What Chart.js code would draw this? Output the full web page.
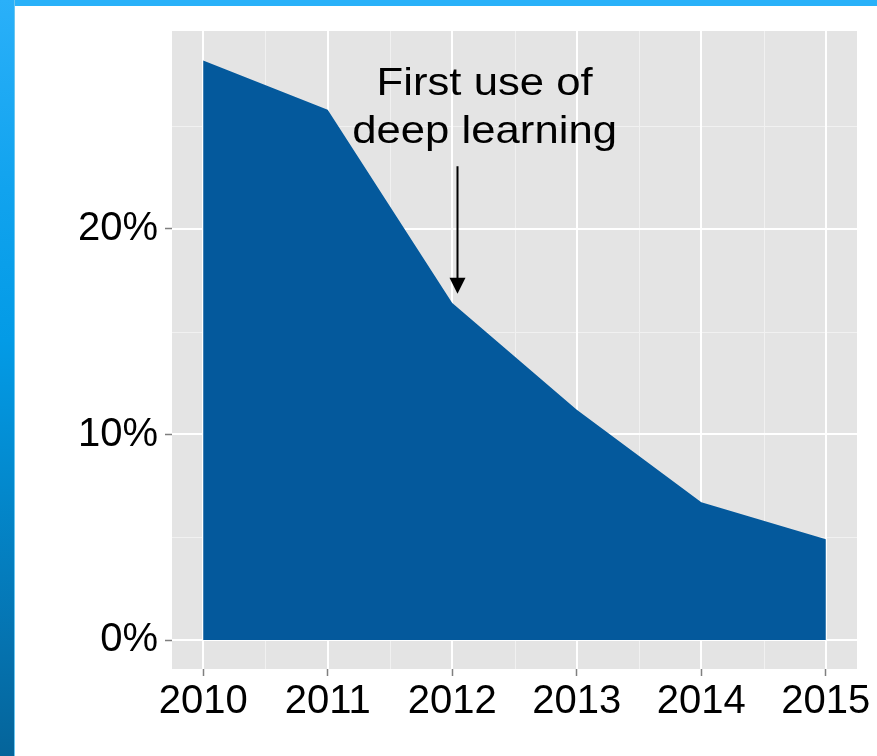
<!DOCTYPE html>
<html>
<head>
<meta charset="utf-8">
<script src="https://cdn.jsdelivr.net/npm/chart.js@4.4.0/dist/chart.umd.min.js"></script>
<style>
  html, body { margin: 0; padding: 0; background: #fff; }
  #wrap { position: relative; width: 877px; height: 756px; overflow: hidden; }
  #topbar { position: absolute; left: 0; top: 0; width: 877px; height: 6px; background: #29b1f9; }
  #leftbar { position: absolute; left: 0; top: 0; width: 14px; height: 756px;
    background: linear-gradient(to bottom, #2ab0f9 0%, #11a3ee 25%, #039be6 45%, #0388cc 65%, #0573b0 85%, #05649a 100%);
    border-right: 1px solid #6cc6f0; }
  #myChart { position: absolute; left: 0; top: 0; }
</style>
</head>
<body>
<div id="wrap">
  <div id="topbar"></div>
  <div id="leftbar"></div>
  <canvas id="myChart" width="877" height="756"></canvas>
</div>
<script>
// data
var years = [2010, 2011, 2012, 2013, 2014, 2015]
var errorRate = [28.2, 25.8, 16.4, 11.2, 6.7, 4.9]
var yTicks = [0, 10, 20]
var yMinor = [5, 15, 25]
var xMinor = [2010.5, 2011.5, 2012.5, 2013.5, 2014.5]
var noteLines = ["First use of", "deep learning"]
var noteYear = 2012

var fontFam = '"Liberation Sans", Arial, Helvetica, sans-serif'

var panel = {
  id: 'panel',
  beforeDatasetsDraw: function(chart) {
    var ctx = chart.ctx, a = chart.chartArea
    var xs = chart.scales.x, ys = chart.scales.y
    ctx.save()
    ctx.fillStyle = '#e4e4e4'
    ctx.fillRect(a.left, a.top, a.right - a.left, a.bottom - a.top)
    // minor grid
    ctx.strokeStyle = '#f1f1f1'
    ctx.lineWidth = 1
    xMinor.forEach(function(v){
      var px = Math.round(xs.getPixelForValue(v)) + 0.5
      ctx.beginPath(); ctx.moveTo(px, a.top); ctx.lineTo(px, a.bottom); ctx.stroke()
    })
    yMinor.forEach(function(v){
      var py = Math.round(ys.getPixelForValue(v)) + 0.5
      ctx.beginPath(); ctx.moveTo(a.left, py); ctx.lineTo(a.right, py); ctx.stroke()
    })
    // major grid
    ctx.strokeStyle = '#ffffff'
    ctx.lineWidth = 2
    years.forEach(function(v){
      var px = Math.round(xs.getPixelForValue(v))
      ctx.beginPath(); ctx.moveTo(px, a.top); ctx.lineTo(px, a.bottom); ctx.stroke()
    })
    yTicks.forEach(function(v){
      var py = Math.round(ys.getPixelForValue(v))
      ctx.beginPath(); ctx.moveTo(a.left, py); ctx.lineTo(a.right, py); ctx.stroke()
    })
    ctx.restore()
  },
  afterDatasetsDraw: function(chart) {
    var ctx = chart.ctx
    var xs = chart.scales.x, ys = chart.scales.y
    ctx.save()
    // annotation text (the original font runs a bit wider than Liberation Sans)
    ctx.fillStyle = '#000'
    ctx.font = '39px ' + fontFam
    ctx.textAlign = 'center'
    ctx.textBaseline = 'alphabetic'
    var tx = xs.getPixelForValue(noteYear + 0.26)
    var stretch = 1.12
    ctx.save()
    ctx.translate(tx, 0)
    ctx.scale(stretch, 1)
    ctx.fillText(noteLines[0], 0, ys.getPixelForValue(26.52))
    ctx.fillText(noteLines[1], 0, ys.getPixelForValue(24.18))
    ctx.restore()
    // arrow
    var ax = Math.round(xs.getPixelForValue(noteYear + 0.04)) + 0.5
    var y0 = ys.getPixelForValue(23.05)
    var y1 = ys.getPixelForValue(16.85)
    ctx.strokeStyle = '#000'
    ctx.lineWidth = 2
    ctx.beginPath(); ctx.moveTo(ax, y0); ctx.lineTo(ax, y1 - 8); ctx.stroke()
    ctx.beginPath()
    ctx.moveTo(ax, y1)
    ctx.lineTo(ax - 8, y1 - 16)
    ctx.lineTo(ax + 8, y1 - 16)
    ctx.closePath()
    ctx.fill()
    ctx.restore()
  }
}

var myChart = new Chart(document.getElementById('myChart').getContext('2d'), {
  type: 'line',
  data: {
    datasets: [{
      data: years.map(function(y, i){ return {x: y, y: errorRate[i]} }),
      fill: 'origin',
      backgroundColor: '#04599c',
      borderWidth: 0,
      pointRadius: 0,
      tension: 0
    }]
  },
  options: {
    responsive: false,
    animation: false,
    events: [],
    layout: { padding: { top: 31, right: 20, left: 0, bottom: 0 } },
    plugins: { legend: { display: false }, tooltip: { enabled: false } },
    scales: {
      x: {
        type: 'linear',
        min: 2009.75,
        max: 2015.25,
        afterBuildTicks: function(s){ s.ticks = years.map(function(v){ return {value: v} }) },
        afterFit: function(s){ s.height = 87 },
        border: { display: false },
        grid: { drawOnChartArea: false, drawTicks: true, tickLength: 7, tickColor: '#7f7f7f', tickWidth: 1.5 },
        ticks: { color: '#000', font: { family: fontFam, size: 40 }, padding: 2, maxRotation: 0,
          callback: function(v){ return String(v) } }
      },
      y: {
        type: 'linear',
        min: -1.41,
        max: 29.63,
        afterBuildTicks: function(s){ s.ticks = yTicks.map(function(v){ return {value: v} }) },
        afterFit: function(s){ s.width = 172 },
        border: { display: false },
        grid: { drawOnChartArea: false, drawTicks: true, tickLength: 7, tickColor: '#7f7f7f', tickWidth: 1.5 },
        ticks: { color: '#000', font: { family: fontFam, size: 40 }, padding: 7,
          callback: function(v){ return v + '%' } }
      }
    }
  },
  plugins: [panel]
})
</script>
</body>
</html>
